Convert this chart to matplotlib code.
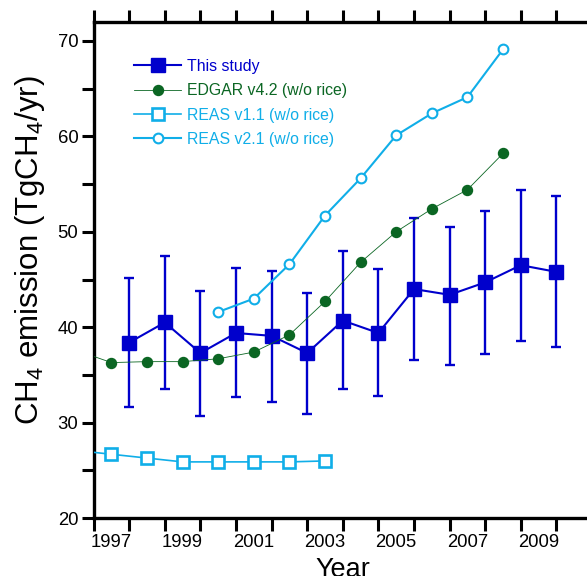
import matplotlib
matplotlib.use("Agg")
import matplotlib.pyplot as plt
import numpy as np

plt.rcParams['font.family'] = ['Liberation Sans', 'DejaVu Sans']
plt.rcParams['mathtext.fontset'] = 'custom'
plt.rcParams['mathtext.rm'] = 'Liberation Sans'

# this study (plotted mid-year)
study_years = [1997, 1998, 1999, 2000, 2001, 2002, 2003, 2004, 2005, 2006, 2007, 2008, 2009]
study_vals = [38.4, 40.5, 37.3, 39.4, 39.1, 37.3, 40.7, 39.4, 44.0, 43.4, 44.7, 46.5, 45.8]
study_hi = [45.2, 47.5, 43.8, 46.2, 45.9, 43.6, 48.0, 46.1, 51.4, 50.5, 52.2, 54.4, 53.7]
study_lo = [31.6, 33.5, 30.7, 32.7, 32.2, 30.9, 33.5, 32.8, 36.6, 36.0, 37.2, 38.6, 37.9]

edgar_years = [1996, 1997, 1998, 1999, 2000, 2001, 2002, 2003, 2004, 2005, 2006, 2007, 2008]
edgar_vals = [37.6, 36.3, 36.4, 36.4, 36.7, 37.4, 39.2, 42.7, 46.8, 50.0, 52.4, 54.4, 58.2]

reas1_years = [1996, 1997, 1998, 1999, 2000, 2001, 2002, 2003]
reas1_vals = [27.1, 26.7, 26.3, 25.9, 25.9, 25.9, 25.9, 26.0]

reas2_years = [2000, 2001, 2002, 2003, 2004, 2005, 2006, 2007, 2008]
reas2_vals = [41.6, 43.0, 46.6, 51.7, 55.6, 60.1, 62.4, 64.1, 69.1]

year_labels = [1997, 1999, 2001, 2003, 2005, 2007, 2009]

blue = '#0000cc'
green = '#0b6623'
cyan = '#10aee8'

fig = plt.figure(figsize=(5.87, 5.76), dpi=100)
ax = fig.add_axes([0.1595, 0.1003, 0.849, 0.862])

sx = np.array(study_years) + 0.5
sv = np.array(study_vals)
yerr = [sv - np.array(study_lo), np.array(study_hi) - sv]
ax.errorbar(sx, sv, yerr=yerr, fmt='none', ecolor=blue, elinewidth=1.7,
            capsize=3.5, capthick=1.7, zorder=2)
ax.plot(sx, sv, '-s', color=blue, lw=1.5, ms=9.4, label='This study', zorder=3)
ax.plot(edgar_years, edgar_vals, '-o', color=green, lw=0.6, ms=7.2,
        label='EDGAR v4.2 (w/o rice)', zorder=4)
ax.plot(reas1_years, reas1_vals, '-s', color=cyan, lw=1.2, ms=8.6, mfc='white',
        mew=1.9, label='REAS v1.1 (w/o rice)', zorder=4)
ax.plot(reas2_years, reas2_vals, '-o', color=cyan, lw=1.5, ms=7, mfc='white',
        mew=1.5, label='REAS v2.1 (w/o rice)', zorder=4)

ax.set_xlim(1996.5, 2010.5)
ax.set_ylim(20, 72)

ax.set_xticks(np.arange(1996.5, 2010.6, 1.0))
ax.set_xticklabels([])
ax.set_xticks(year_labels, minor=True)
ax.set_xticklabels([str(y) for y in year_labels], minor=True)
ax.tick_params(axis='x', which='major', direction='out', length=9, width=2.2,
               top=True, bottom=True)
ax.tick_params(axis='x', which='minor', length=0, pad=11, labelsize=13.3)

ax.set_yticks([20, 30, 40, 50, 60, 70])
ax.set_yticks([25, 35, 45, 55, 65], minor=True)
ax.tick_params(axis='y', which='both', direction='out', length=9, width=2.2,
               labelsize=13.3, pad=2, right=False)

for s in ['left', 'bottom', 'top', 'right']:
    ax.spines[s].set_linewidth(2.4)

ax.set_xlabel('Year', fontsize=19.5, labelpad=4.5)
ax.set_ylabel(r'CH$_\mathregular{4}$ emission (TgCH$_\mathregular{4}$/yr)', fontsize=22.5)
ax.yaxis.set_label_coords(-0.0935, 0.54)

leg = ax.legend(loc='upper left', bbox_to_anchor=(0.081, 0.925), frameon=False,
                fontsize=11.4, handlelength=2.97, handletextpad=0.38,
                labelspacing=0.59, borderpad=0, borderaxespad=0, numpoints=1,
                labelcolor=[blue, green, cyan, cyan])

fig.savefig('out.png', dpi=100)
